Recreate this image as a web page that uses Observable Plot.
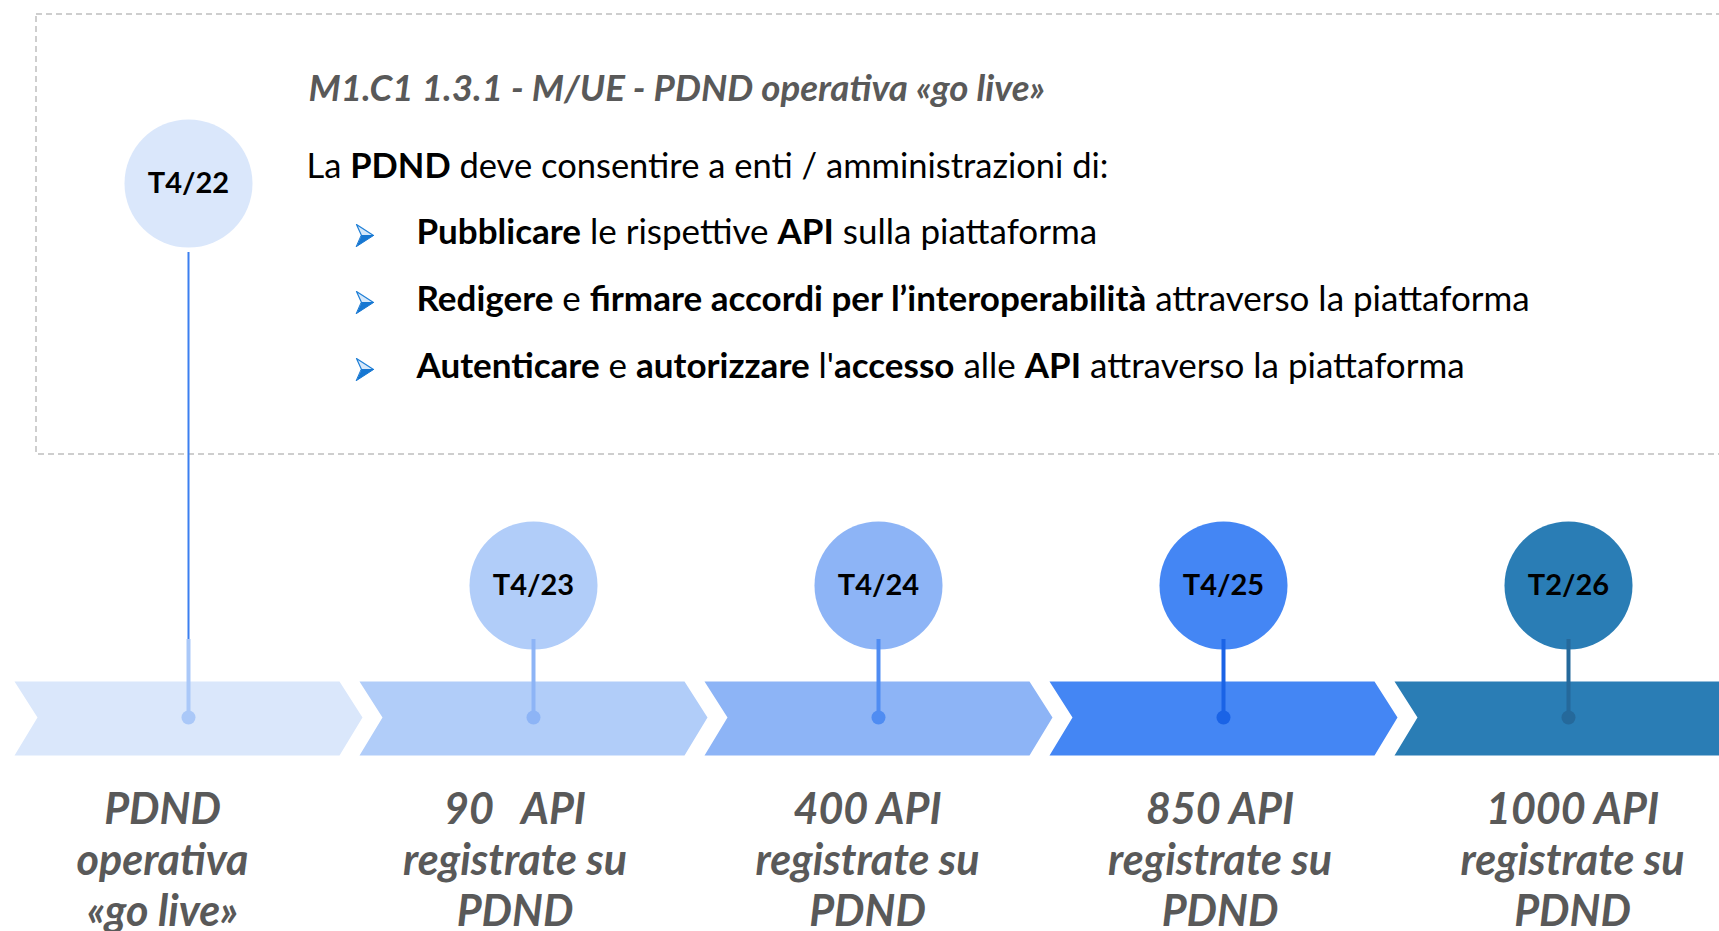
<!DOCTYPE html>
<html><head><meta charset="utf-8">
<script src="https://cdn.jsdelivr.net/npm/d3@7"></script>
<script src="https://cdn.jsdelivr.net/npm/@observablehq/plot@0.6"></script>
<style>
html,body{margin:0;padding:0;background:#fff;overflow:hidden;}
</style></head><body><div id="chart"></div>
<script>
// ---- data ----
const milestones = ["T4/22", "T4/23", "T4/24", "T4/25", "T2/26"];
const targets = [
  "PDND\noperativa\n«go live»",
  "90   API\nregistrate su\nPDND",
  "400 API\nregistrate su\nPDND",
  "850 API\nregistrate su\nPDND",
  "1000 API\nregistrate su\nPDND"
];
const fillColors = ["#dae7fb", "#b1cdf9", "#8db4f6", "#4486f4", "#2a7db5"];
const accentColors = ["#aac8f8", "#8db4f6", "#4f8cf2", "#1a63e6", "#25699b"];
const title = "M1.C1 1.3.1 - M/UE - PDND operativa «go live»";
const intro = "La **PDND** deve consentire a enti / amministrazioni di:";
const bullets = [
  "**Pubblicare** le rispettive **API** sulla piattaforma",
  "**Redigere** e **firmare accordi per l’interoperabilità** attraverso la piattaforma",
  "**Autenticare** e **autorizzare** l'**accesso** alle **API** attraverso la piattaforma"
];

// ---- layout ----
const W = 1719, H = 931;
const X0 = 188, UNIT = 345;            // pixel position of milestone 0, spacing
const X = px => (px - X0) / UNIT;       // pixel -> x-scale units
const idx = milestones.map((_, i) => i);
const chevTop = 681, chevMid = 717, chevBot = 755;
const chevShape = [[-174, chevTop], [151, chevTop], [174, chevMid], [151, chevBot], [-174, chevBot], [-151, chevMid]];
const chevrons = idx.flatMap(i => chevShape.map(([dx, y]) => ({i, x: i + dx / UNIT, y})));
const circleY = i => (i === 0 ? 183 : 585);
const R = 64;
const plain = s => s.replace(/\*\*/g, "");
const textY = [166, 232, 299, 366];
const textSize = [34.5, 35, 35, 35];
const arrowY = [235, 302, 369];
const arrowCx = 363;
const arrowUpper = [[-7, -11], [10, 0], [-2, 0]];
const arrowLower = [[-2, 0], [10, 0], [-7, 11]];
const arrowPts = (shape) => bullets.flatMap((_, b) => shape.map(([dx, dy]) => ({b, x: X(arrowCx + dx), y: arrowY[b] + dy})));
const richSrc = [intro, ...bullets];

const svg = Plot.plot({
  width: W, height: H,
  margin: 0,
  x: {domain: [0, 4], range: [X0, X0 + 4 * UNIT], axis: null},
  y: {domain: [0, H], range: [0, H], axis: null},
  color: {type: "identity"},
  style: {fontFamily: "Lato, sans-serif", background: "white", overflow: "hidden"},
  marks: [
    // dashed frame
    Plot.rect([0], {x1: X(36), x2: X(1780), y1: 14, y2: 454, fill: "none", stroke: "#bfbfbf", strokeWidth: 1.5, strokeDasharray: "6,4"}),
    // chevrons
    Plot.line(chevrons, {x: "x", y: "y", z: "i", fill: d => fillColors[d.i], stroke: "none", curve: "linear"}),
    // long thin connector of first milestone
    Plot.ruleX([0], {x: d => d, y1: 252, y2: 640, stroke: "#3b7ff0", strokeWidth: 2}),
    // circles
    Plot.dot(idx, {x: d => d, y: circleY, r: R, fill: i => fillColors[i], stroke: "none"}),
    // stems
    Plot.ruleX(idx, {x: d => d, y1: 639, y2: chevMid, stroke: i => accentColors[i], strokeWidth: 4}),
    Plot.dot(idx, {x: d => d, y: chevMid, r: 7, fill: i => accentColors[i], stroke: "none"}),
    // milestone labels
    Plot.text(idx, {x: d => d, y: circleY, text: i => milestones[i], fontSize: 29, fontWeight: "bold", fill: "#000"}),
    // target labels
    Plot.text(idx, {x: i => X(162 + 352.5 * i), y: 858, text: i => targets[i], fontSize: 43, fontWeight: "bold", fontStyle: "italic", lineHeight: 1.19, fill: "#595959"}),
    // header title
    Plot.text([title], {x: X(308), y: 89, text: d => d, textAnchor: "start", fontSize: 36.7, fontWeight: "bold", fontStyle: "italic", fill: "#595959"}),
    // intro + bullets (bold runs restored below)
    ...richSrc.map((s, i) => Plot.text([s], {
      x: X(i === 0 ? 306 : 416), y: textY[i],
      text: plain, textAnchor: "start", fontSize: textSize[i], fill: "#000"
    })),
    // bullet arrowheads (3D style: light upper half, dark lower half)
    Plot.line(arrowPts(arrowUpper), {x: "x", y: "y", z: "b", fill: "#d6e8fa", stroke: "#1f7fd6", strokeWidth: 1.2, curve: "linear-closed"}),
    Plot.line(arrowPts(arrowLower), {x: "x", y: "y", z: "b", fill: "#1677d2", stroke: "#1677d2", strokeWidth: 1, curve: "linear-closed"})
  ]
});

// restore bold runs inside the rich texts
d3.select(svg).selectAll("text").each(function () {
  const j = richSrc.findIndex(s => plain(s) === this.textContent);
  if (j < 0) return;
  const el = d3.select(this);
  el.text(null);
  richSrc[j].split("**").forEach((part, k) => {
    if (!part) return;
    const t = el.append("tspan").text(part);
    if (k % 2 === 1) t.attr("font-weight", "bold");
  });
});

document.getElementById("chart").appendChild(svg);
</script></body></html>
